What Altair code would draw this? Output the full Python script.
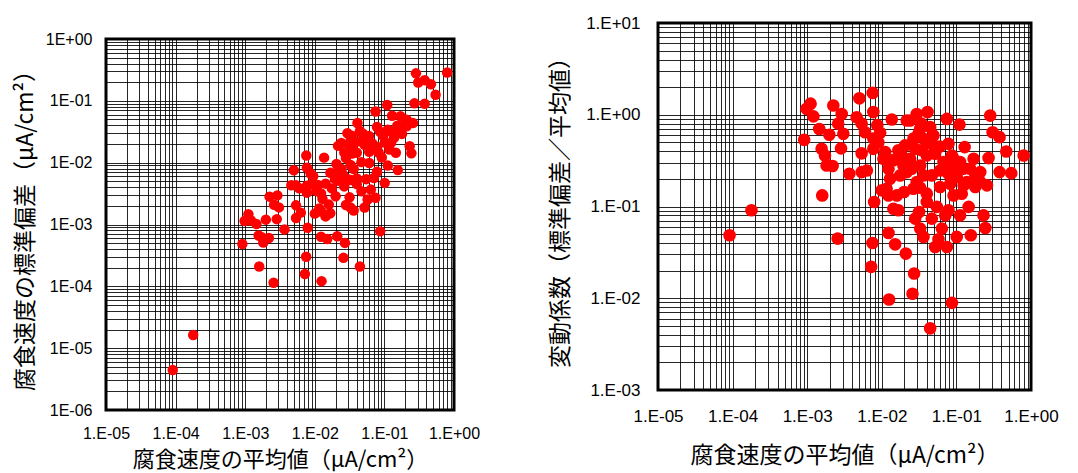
import altair as alt
import pandas as pd

# Mean corrosion rate (uA/cm2) and coefficient of variation for each monitoring point
mean_rate = [
    9.1e-5, 1.79e-4, 1.59e-3, 2.56e-3, 7.5e-3, 7.2e-3, 0.0125, 0.0258, 0.0271, 0.021,
    0.0151, 0.0123, 0.0445, 0.087, 7.9e-3, 9.1e-4, 9.8e-4, 1.11e-3, 1.21e-3, 1.45e-3,
    1.98e-3, 1.56e-3, 1.73e-3, 1.82e-3, 2.19e-3, 2.24e-3, 2.9e-3, 2.6e-3, 3.05e-3, 2.84e-3,
    3.67e-3, 5.0e-3, 7.55e-3, 4.6e-3, 5.37e-3, 5.96e-3, 7.7e-3, 9.5e-3, 5.37e-3, 5.37e-3,
    6.3e-3, 7.7e-3, 9.0e-3, 0.0136, 0.0105, 0.010, 0.0123, 0.0143, 0.0167, 0.0159,
    0.0199, 0.0123, 0.0129, 0.0176, 0.0205, 0.0216, 0.024, 0.0294, 0.041, 0.0327,
    0.0445, 0.0362, 0.028, 0.0493, 0.024, 0.0327, 0.0252, 0.0294, 0.0401, 0.0401,
    0.0316, 0.028, 0.0327, 0.0362, 0.0468, 0.0547, 0.0639, 0.0519, 0.0575, 0.0745,
    0.0708, 0.0783, 0.101, 0.112, 0.146, 0.156, 0.231, 0.244, 0.284, 0.306,
    0.379, 0.466, 0.798, 0.379, 0.544, 0.27, 0.257, 0.0745, 0.110, 0.0783,
    0.129, 0.0672, 0.0917, 0.17, 0.153, 0.209, 0.0783, 0.101, 0.125, 0.17,
    0.118, 0.0917, 0.0605, 0.0605, 0.0519, 0.0401, 0.0185, 0.0195, 0.0265, 0.0116,
    0.0111, 0.0327, 0.0493, 0.096, 0.124, 0.18, 0.209, 0.087, 0.112, 0.138,
    0.179, 0.0826, 0.071, 0.0468, 0.0362, 0.0216, 0.0143, 0.0167, 0.0344, 0.0445,
    0.060, 0.0266, 0.034, 0.031, 0.0087, 0.0077,
]
cv = [
    0.0486, 0.091, 0.132, 0.0447, 0.040, 0.022, 0.0097, 0.0112, 0.0186, 0.0307,
    0.0387, 0.0515, 0.0047, 0.0089, 0.112, 0.533, 1.16, 1.32, 0.96, 0.70,
    0.605, 0.425, 0.36, 0.28, 0.276, 1.26, 1.02, 0.80, 0.62, 0.43,
    0.227, 1.51, 1.73, 0.94, 0.80, 0.645, 1.07, 0.635, 0.38, 0.237,
    0.247, 0.425, 0.50, 0.887, 0.331, 0.15, 0.132, 0.0946, 0.091, 0.132,
    0.144, 0.258, 0.201, 0.218, 0.463, 0.865, 0.865, 1.02, 1.07, 0.70,
    0.733, 0.547, 0.425, 0.463, 0.331, 0.28, 0.258, 0.185, 0.138, 0.112,
    0.087, 0.0738, 0.0574, 0.0466, 0.0738, 0.099, 0.0574, 0.0362, 0.044, 0.0362,
    0.080, 0.091, 0.0466, 0.080, 0.099, 0.0486, 0.080, 0.0583, 0.98, 0.645,
    0.57, 0.398, 0.36, 0.237, 0.231, 0.337, 0.17, 0.90, 0.78, 0.483,
    0.444, 0.305, 0.331, 0.331, 0.258, 0.237, 0.227, 0.209, 0.17, 0.177,
    0.138, 0.132, 0.163, 0.247, 0.376, 0.36, 0.36, 0.28, 0.156, 0.156,
    0.392, 0.16, 0.594, 0.28, 0.258, 0.218, 0.185, 0.36, 0.305, 0.185,
    0.163, 0.177, 0.258, 0.218, 0.218, 0.237, 0.32, 0.41, 0.41, 0.50,
    0.45, 0.55, 0.80, 0.62, 0.77, 0.55,
]

# standard deviation = coefficient of variation x mean
std_dev = [m * c for m, c in zip(mean_rate, cv)]
df = pd.DataFrame({"mean": mean_rate, "std": std_dev, "cv": cv})

X_TITLE = "腐食速度の平均値（μA/cm²）"
Y_TITLE_L = "腐食速度の標準偏差（μA/cm²）"
Y_TITLE_R = "変動係数（標準偏差／平均値）"

FRAME = alt.ViewBackground(stroke="black", strokeWidth=3)


def log_grid(lo, hi):
    """Gridline positions at 1..9 x 10^e for every decade in [10^lo, 10^hi]."""
    vals = [k * 10.0 ** e for e in range(lo, hi) for k in range(1, 10)]
    vals.append(10.0 ** hi)
    return vals


def decade_label(prefix):
    e = "round(log(datum.value)/LN10)"
    return (
        f"abs(log(datum.value)/LN10 - {e}) < 0.01 ? "
        f"'{prefix}' + ({e} < 0 ? '-' : '+') + pad(toString(abs({e})), 2, '0', 'left') : ''"
    )


def make_axis(values, prefix, label_size, label_pad, title_size, title_pad):
    return alt.Axis(
        values=values,
        labelExpr=decade_label(prefix),
        grid=True,
        gridColor="black",
        gridWidth=1,
        gridOpacity=0.85,
        ticks=False,
        domain=False,
        labelOverlap=False,
        labelFlush=False,
        labelFont="Liberation Sans",
        labelFontSize=label_size,
        labelColor="black",
        labelPadding=label_pad,
        titleFont="Noto Sans CJK JP",
        titleFontSize=title_size,
        titleFontWeight="normal",
        titleColor="black",
        titlePadding=title_pad,
    )


left = alt.Chart(df).mark_circle(size=110, color="#ff0000", opacity=1).encode(
    x=alt.X("mean:Q", title=X_TITLE,
            scale=alt.Scale(type="log", domain=[1e-5, 1], nice=False),
            axis=make_axis(log_grid(-5, 0), "1.E", 16, 15, 22, 8)),
    y=alt.Y("std:Q", title=Y_TITLE_L,
            scale=alt.Scale(type="log", domain=[1e-6, 1], nice=False),
            axis=make_axis(log_grid(-6, 0), "1E", 16, 14, 23, 8)),
).properties(width=348, height=371, view=FRAME)

# empty strip that lowers the left panel relative to the right one
spacer = alt.Chart(pd.DataFrame({"v": [0]})).mark_point(opacity=0).encode(
    x=alt.value(0), y=alt.value(0)
).properties(width=348, height=5, view=alt.ViewBackground(stroke="transparent"))

right = alt.Chart(df).mark_circle(size=160, color="#ff0000", opacity=1).encode(
    x=alt.X("mean:Q", title=X_TITLE,
            scale=alt.Scale(type="log", domain=[1e-5, 1], nice=False),
            axis=make_axis(log_grid(-5, 0), "1.E", 17, 18, 23, 20)),
    y=alt.Y("cv:Q", title=Y_TITLE_R,
            scale=alt.Scale(type="log", domain=[1e-3, 10], nice=False),
            axis=make_axis(log_grid(-3, 1), "1.E", 17, 18, 23, 13)),
).properties(width=373, height=367, view=FRAME)

chart = alt.hconcat(
    alt.vconcat(spacer, left, spacing=0),
    right,
    spacing=66,
).properties(
    padding={"left": 12, "top": 12, "right": 5, "bottom": 0},
    background="white",
)

chart.save("out.html", embed_options={"renderer": "svg", "actions": False})
